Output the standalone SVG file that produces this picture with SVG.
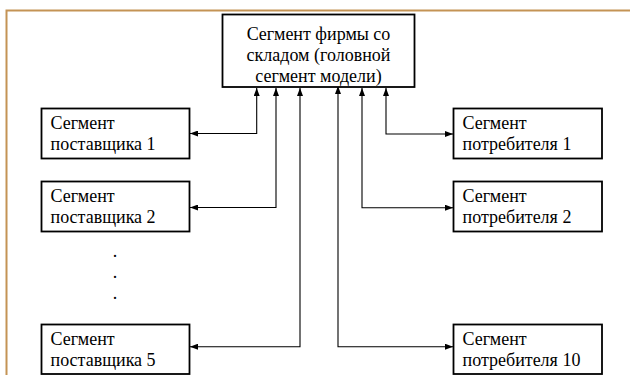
<svg xmlns="http://www.w3.org/2000/svg" width="630" height="375" viewBox="0 0 630 375">
<style>
.box{fill:#fff;stroke:#000;stroke-width:1.8}
text{font-family:'Liberation Serif','Times New Roman',Tinos,'DejaVu Serif',serif;font-size:18px;fill:#000}
.c{fill:none;stroke:#000;stroke-width:1.1}
.frame{fill:none;stroke:#c49355;stroke-width:2}
</style>
<defs>
<marker id="ah" viewBox="0 0 8 6" refX="8" refY="3" markerWidth="8" markerHeight="6" markerUnits="userSpaceOnUse" orient="auto-start-reverse">
<path d="M0,0 L8,3 L0,6 Z" fill="#000"/>
</marker>
</defs>
<rect width="630" height="375" fill="#fff"/>
<path class="frame" d="M6.5,375 V10.5 H630"/>
<g id="connectors">
<path class="c" d="M256.7,88 V133.5 H190" marker-start="url(#ah)" marker-end="url(#ah)"/>
<path class="c" d="M276,88 V207.5 H190" marker-start="url(#ah)" marker-end="url(#ah)"/>
<path class="c" d="M300,88 V346.7 H190" marker-start="url(#ah)" marker-end="url(#ah)"/>
<path class="c" d="M338,86 V346.7 H453" marker-start="url(#ah)" marker-end="url(#ah)"/>
<path class="c" d="M362,88 V207.7 H453" marker-start="url(#ah)" marker-end="url(#ah)"/>
<path class="c" d="M386,88 V134 H453" marker-start="url(#ah)" marker-end="url(#ah)"/>
</g>
<g id="head" font-family="Liberation Serif, serif">
<rect class="box" x="222.5" y="14.5" width="192" height="72.5"/>
<text text-anchor="middle" x="318.5" y="39.5">Сегмент фирмы со</text>
<text text-anchor="middle" x="318.5" y="60.5">складом (головной</text>
<text text-anchor="middle" x="318.5" y="81.5">сегмент модели)</text>
</g>
<g id="sup1">
<rect class="box" x="41.5" y="108.5" width="148" height="50"/>
<text x="50.5" y="128.5">Сегмент</text>
<text x="50.5" y="150">поставщика 1</text>
</g>
<g id="sup2">
<rect class="box" x="41.5" y="181.5" width="148" height="50"/>
<text x="50.5" y="201.5">Сегмент</text>
<text x="50.5" y="223">поставщика 2</text>
</g>
<g id="dots">
<text text-anchor="middle" x="115" y="256.5">.</text>
<text text-anchor="middle" x="115" y="278">.</text>
<text text-anchor="middle" x="115" y="298.5">.</text>
</g>
<g id="sup5">
<rect class="box" x="41.5" y="324.5" width="148" height="49.5"/>
<text x="50.5" y="344.5">Сегмент</text>
<text x="50.5" y="366">поставщика 5</text>
</g>
<g id="con1">
<rect class="box" x="453.5" y="108.5" width="148.5" height="50"/>
<text x="462.5" y="128.5">Сегмент</text>
<text x="462.5" y="150">потребителя 1</text>
</g>
<g id="con2">
<rect class="box" x="453.5" y="181.5" width="148.5" height="50"/>
<text x="462.5" y="201.5">Сегмент</text>
<text x="462.5" y="223">потребителя 2</text>
</g>
<g id="con10">
<rect class="box" x="453.5" y="324.5" width="148.5" height="49.5"/>
<text x="462.5" y="344.5">Сегмент</text>
<text x="462.5" y="366">потребителя 10</text>
</g>
</svg>
